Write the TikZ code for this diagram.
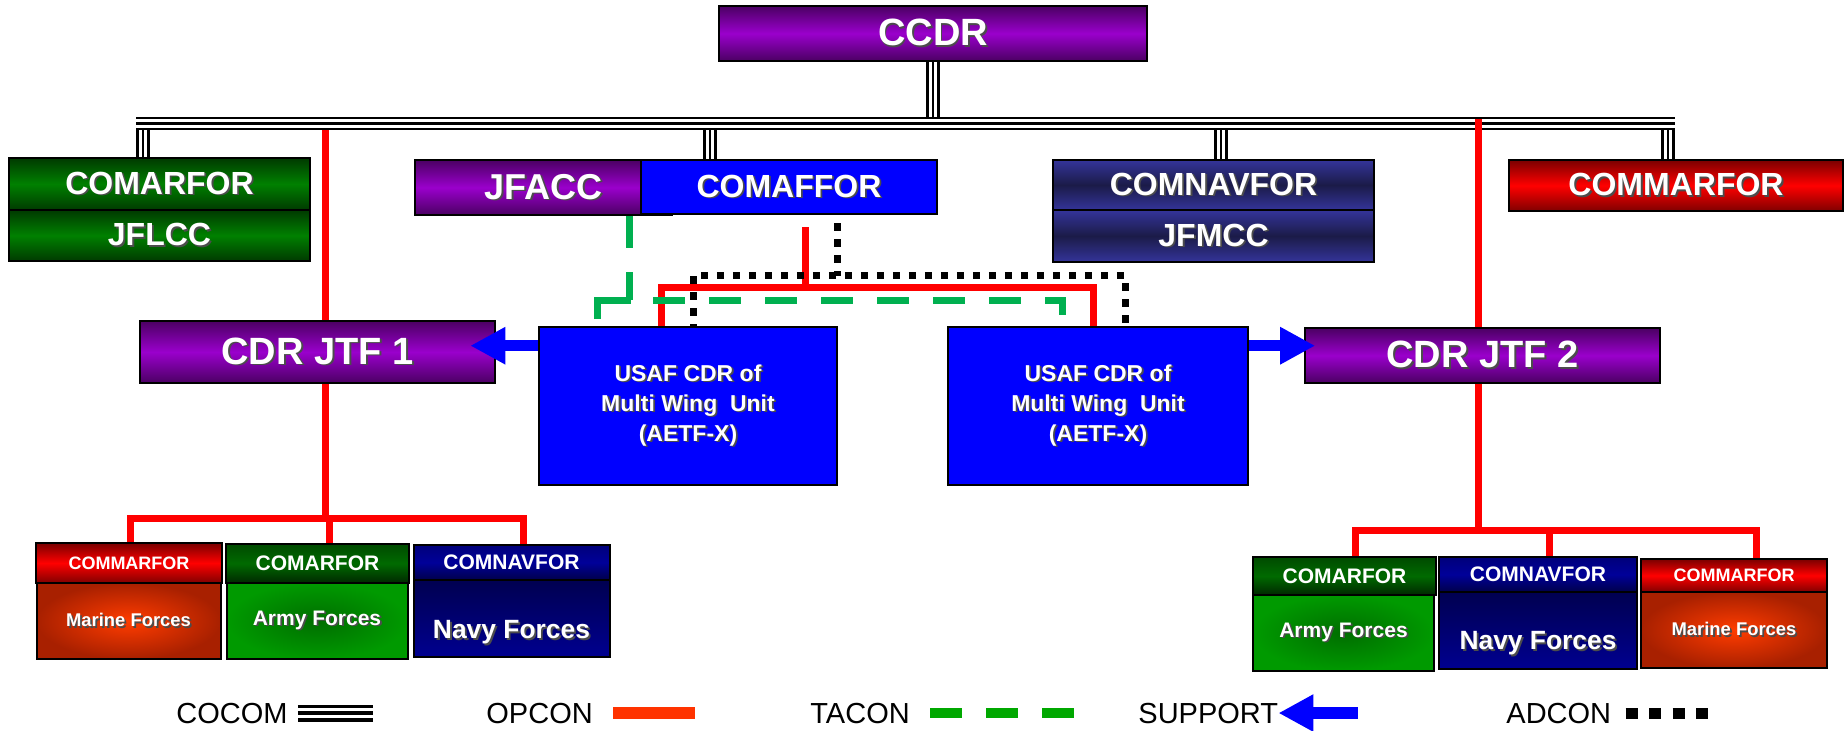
\documentclass[tikz,border=0pt]{standalone}
\usepackage{fontspec}
\setmainfont{Liberation Sans}
\usetikzlibrary{arrows.meta}

\definecolor{purpedge}{HTML}{4B0063}
\definecolor{purpmid}{HTML}{9A00CC}
\definecolor{grnedge}{HTML}{003A00}
\definecolor{grnmid}{HTML}{008000}
\definecolor{navyedge}{HTML}{34349A}
\definecolor{navymid}{HTML}{1B1B48}
\definecolor{redtop}{HTML}{7A0000}
\definecolor{redmid}{HTML}{FF0000}
\definecolor{redbot}{HTML}{800000}
\definecolor{afblue}{HTML}{0000FF}
\definecolor{opred}{HTML}{FF0000}
\definecolor{tacgreen}{HTML}{00B050}
\definecolor{legred}{HTML}{FF3300}
\definecolor{leggreen}{HTML}{00A800}
\definecolor{marinein}{HTML}{FF3C00}
\definecolor{marineout}{HTML}{A82000}
\definecolor{armyin}{HTML}{006E00}
\definecolor{armyout}{HTML}{009A00}
\definecolor{ghtop}{HTML}{004A00}
\definecolor{ghmid}{HTML}{006A00}
\definecolor{ghbot}{HTML}{002800}
\definecolor{nhtop}{HTML}{00007A}
\definecolor{nhmid}{HTML}{000099}
\definecolor{nhbot}{HTML}{00004A}
\definecolor{nbtop}{HTML}{000050}
\definecolor{nbbot}{HTML}{000090}

% white text with a dark drop shadow
\newcommand\shd[1]{\makebox[0pt][l]{\kern0.9pt\raisebox{-0.9pt}{\textcolor{black!70}{#1}}}#1}

\tikzset{
  box/.style={draw=black, line width=1.3pt, inner sep=0pt, text=white, align=center,
    font=\bfseries\fontsize{16}{19}\selectfont},
  purplebox/.style={box, top color=purpedge, bottom color=purpedge, middle color=purpmid},
  greenbox/.style={box, top color=grnedge, bottom color=grnedge, middle color=grnmid},
  navybox/.style={box, top color=navyedge, bottom color=navyedge, middle color=navymid},
  redbox/.style={box, top color=redtop, bottom color=redbot, middle color=redmid},
  bluebox/.style={box, fill=afblue},
  smallbox/.style={box, line width=1pt},
  greenhead/.style={smallbox, top color=ghtop, bottom color=ghbot, middle color=ghmid},
  navyhead/.style={smallbox, top color=nhtop, bottom color=nhbot, middle color=nhmid},
  redhead/.style={smallbox, top color=redtop, bottom color=redbot, middle color=redmid},
  marinebody/.style={smallbox, inner color=marinein, outer color=marineout},
  armybody/.style={smallbox, inner color=armyin, outer color=armyout},
  navybody/.style={smallbox, top color=nbtop, bottom color=nbbot},
  cocom/.style={draw=white, line width=4.4pt, preaction={draw=black, line width=6.6pt},
    postaction={draw=black, line width=1.2pt}},
  cocomleg/.style={draw=white, line width=5pt, preaction={draw=black, line width=8.5pt},
    postaction={draw=black, line width=1.75pt}},
  opcon/.style={draw=opred, line width=3.5pt},
  tacon/.style={draw=tacgreen, line width=3.5pt, dash pattern=on 16pt off 12pt},
  adcon/.style={draw=black, line width=3.5pt, dash pattern=on 3.75pt off 4.25pt},
  support/.style={draw=afblue, line width=5.75pt, -{Triangle[length=17.5pt, width=17.5pt]}},
  legtxt/.style={inner sep=0pt, anchor=base west, font=\fontsize{14.5}{17}\selectfont},
}

\begin{document}
\begin{tikzpicture}[x=0.5pt, y=-0.5pt]
  \useasboundingbox (0,0) rectangle (1845,730);

  % top row
  \node[purplebox, minimum width=214pt, minimum height=27.5pt, font=\bfseries\fontsize{19}{22}\selectfont] (ccdr) at (933,33.5) {\shd{CCDR}};

  \node[greenbox, minimum width=150.5pt, minimum height=26pt] (comarfor) at (159.5,184) {\shd{COMARFOR}};
  \node[greenbox, minimum width=150.5pt, minimum height=25.5pt] (jflcc) at (159.5,235.5) {\shd{JFLCC}};
  \node[purplebox, minimum width=128.5pt, minimum height=27.5pt, font=\bfseries\fontsize{18}{21}\selectfont] (jfacc) at (543.5,187.5) {\shd{JFACC}};
  \node[bluebox, minimum width=148pt, minimum height=27pt] (comaffor) at (789,187) {\shd{COMAFFOR}};
  \node[navybox, minimum width=160.5pt, minimum height=25pt] (comnavfor) at (1213.5,185) {\shd{COMNAVFOR}};
  \node[navybox, minimum width=160.5pt, minimum height=26pt] (jfmcc) at (1213.5,236) {\shd{JFMCC}};
  \node[redbox, minimum width=167pt, minimum height=25.5pt] (commarfor) at (1676,185.5) {\shd{COMMARFOR}};

  % joint task forces
  \node[purplebox, minimum width=177.5pt, minimum height=31pt, font=\bfseries\fontsize{19}{22}\selectfont] (jtf1) at (317.5,352) {\shd{CDR JTF 1}};
  \node[purplebox, minimum width=177.5pt, minimum height=27.5pt, font=\bfseries\fontsize{19}{22}\selectfont] (jtf2) at (1482.5,355.5) {\shd{CDR JTF 2}};
  \node[bluebox, minimum width=149pt, minimum height=79pt, font=\bfseries\fontsize{11.5}{15}\selectfont] (usaf1) at (688,406) {\shd{USAF CDR of}\\\shd{Multi Wing\ \ Unit}\\\shd{(AETF-X)}};
  \node[bluebox, minimum width=150pt, minimum height=79pt, font=\bfseries\fontsize{11.5}{15}\selectfont] (usaf2) at (1098,406) {\shd{USAF CDR of}\\\shd{Multi Wing\ \ Unit}\\\shd{(AETF-X)}};

  % forces under JTF 1
  \node[marinebody, minimum width=92pt, minimum height=38pt, font=\bfseries\fontsize{9.2}{11}\selectfont] (lmarine) at (128.5,621) {\shd{Marine Forces}};
  \node[redhead, minimum width=93pt, minimum height=20pt, font=\bfseries\fontsize{9}{11}\selectfont] (lmarhead) at (129,563) {COMMARFOR};
  \node[armybody, minimum width=90.5pt, minimum height=38pt, font=\bfseries\fontsize{10.5}{12}\selectfont] (larmy) at (317,621) {\shd{Army Forces}};
  \node[greenhead, minimum width=91.5pt, minimum height=19.5pt, font=\bfseries\fontsize{10.5}{12}\selectfont] (larmhead) at (317.5,563.5) {COMARFOR};
  \node[navybody, minimum width=98pt, minimum height=38.5pt] (lnavy) at (511.5,618.5) {};
  \node[text=white, inner sep=0pt, font=\bfseries\fontsize{13.2}{15}\selectfont] (lnavytxt) at ([yshift=-7.25pt]lnavy.center) {\shd{Navy Forces}};
  \node[navyhead, minimum width=98pt, minimum height=17.5pt, font=\bfseries\fontsize{10.5}{12}\selectfont] (lnavhead) at (511.5,562.5) {COMNAVFOR};

  % forces under JTF 2
  \node[armybody, minimum width=90.5pt, minimum height=38pt, font=\bfseries\fontsize{10.5}{12}\selectfont] (rarmy) at (1343.5,633) {\shd{Army Forces}};
  \node[greenhead, minimum width=91.5pt, minimum height=19pt, font=\bfseries\fontsize{10.5}{12}\selectfont] (rarmhead) at (1344.5,576) {COMARFOR};
  \node[navybody, minimum width=99pt, minimum height=38.5pt] (rnavy) at (1538,630.5) {};
  \node[text=white, inner sep=0pt, font=\bfseries\fontsize{13.2}{15}\selectfont] (rnavytxt) at ([yshift=-7pt]rnavy.center) {\shd{Navy Forces}};
  \node[navyhead, minimum width=99pt, minimum height=17.5pt, font=\bfseries\fontsize{10.5}{12}\selectfont] (rnavhead) at (1538,574.5) {COMNAVFOR};
  \node[marinebody, minimum width=93pt, minimum height=38pt, font=\bfseries\fontsize{9.2}{11}\selectfont] (rmarine) at (1734,630) {\shd{Marine Forces}};
  \node[redhead, minimum width=93pt, minimum height=16.5pt, font=\bfseries\fontsize{9}{11}\selectfont] (rmarhead) at (1734,575.5) {COMMARFOR};

  % COCOM
  \coordinate (busL) at (136,123.5);
  \coordinate (busR) at (1675,123.5);
  \coordinate (busT) at (933,117);
  \draw[cocom] (busL) -- (busR);
  \draw[cocom] (ccdr.south) -- (ccdr.south |- busT);
  \foreach \x/\n in {143/comarfor, 710/comaffor, 1221/comnavfor, 1668/commarfor}
    \draw[cocom] (\x,130) -- (\x,130 |- \n.north);

  % OPCON
  \coordinate (op1) at (325,130);
  \coordinate (op2) at (1478,119);
  \draw[opcon] (op1) -- (op1 |- jtf1.north);
  \draw[opcon] (op2) -- (op2 |- jtf2.north);

  \coordinate (lb1) at (130,518.5);
  \coordinate (lb2) at (329,518.5);
  \coordinate (lb3) at (523,518.5);
  \draw[opcon] (op1 |- jtf1.south) -- (op1 |- lb1);
  \draw[opcon] (lb1 |- lmarhead.north) -- (lb1) -- (lb3) -- (lb3 |- lnavhead.north);
  \draw[opcon] (lb2) -- (lb2 |- larmhead.north);

  \coordinate (rb1) at (1355,530);
  \coordinate (rb2) at (1549.5,530);
  \coordinate (rb3) at (1756.5,530);
  \draw[opcon] (op2 |- jtf2.south) -- (op2 |- rb1);
  \draw[opcon] (rb1 |- rarmhead.north) -- (rb1) -- (rb3) -- (rb3 |- rmarhead.north);
  \draw[opcon] (rb2) -- (rb2 |- rnavhead.north);

  \coordinate (om) at (805,227);
  \coordinate (mb1) at (661,287);
  \coordinate (mb2) at (1093,287);
  \draw[opcon] (om) -- (om |- mb1);
  \draw[opcon] (mb1 |- usaf1.north) -- (mb1) -- (mb2) -- (mb2 |- usaf2.north);

  % TACON
  \coordinate (tc) at (629,216);
  \coordinate (tb1) at (597,300);
  \coordinate (tb2) at (1062,300);
  \draw[tacon] (tc) -- (tc |- tb1);
  \draw[tacon, dash pattern=on 26.5pt off 11pt on 16pt off 12pt on 16pt off 12pt on 16pt off 12pt on 16pt off 12pt on 16pt off 12pt on 16pt off 12pt on 16pt off 12pt on 16pt off 12pt]
    ([yshift=-9.5pt]tb1) -- (tb1) -- (tb2) -- ([yshift=-9.5pt]tb2);

  % ADCON
  \coordinate (ac) at (837,215);
  \coordinate (ab1) at (693,275.5);
  \coordinate (ab2) at (1125,275.5);
  \draw[adcon, dash phase=4pt] (ac) -- (ac |- ab1);
  \draw[adcon, dash phase=3pt] (ab1 |- usaf1.north) -- (ab1) -- (ab2) -- (ab2 |- usaf2.north);

  % SUPPORT
  \coordinate (sp1) at ([yshift=-10pt]usaf1.north west);
  \coordinate (sp2) at ([yshift=-10pt]usaf2.north east);
  \draw[support, shorten >=-13pt] (sp1) -- (sp1 -| jtf1.east);
  \draw[support, shorten >=-5.75pt] (sp2) -- (sp2 -| jtf2.west);

  % legend
  \node[legtxt] (lcocom) at (176,723) {COCOM};
  \draw[cocomleg] ([xshift=5pt]lcocom.east) -- ++(75,0);
  \node[legtxt] (lopcon) at (486,723) {OPCON};
  \draw[draw=legred, line width=6pt] ([xshift=10pt]lopcon.east) -- ++(82,0);
  \node[legtxt] (ltacon) at (810,723) {TACON};
  \draw[tacon, draw=leggreen, line width=5pt] ([xshift=10pt]ltacon.east) -- ++(144,0);
  \node[legtxt] (lsupport) at (1138,723) {SUPPORT};
  \draw[support] ([xshift=39.75pt]lsupport.east) -- (lsupport.east);
  \node[legtxt] (ladcon) at (1506,723) {ADCON};
  \draw[draw=black, line width=5.5pt, dash pattern=on 6pt off 5.75pt] ([xshift=7pt]ladcon.east) -- ++(84,0);
\end{tikzpicture}
\end{document}
